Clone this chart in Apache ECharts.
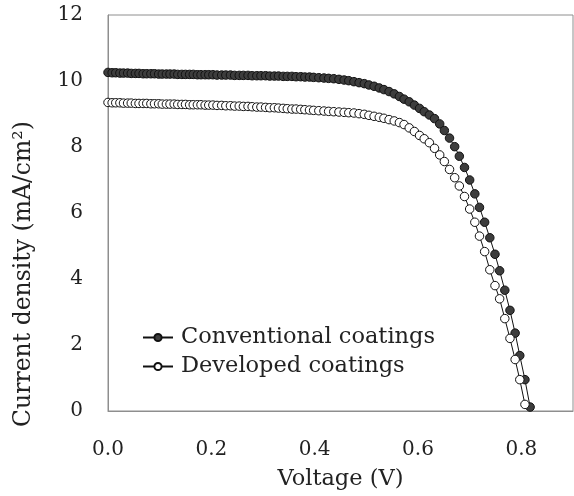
<!DOCTYPE html>
<html>
<head>
<meta charset="utf-8">
<script src="https://cdn.jsdelivr.net/npm/echarts@6/dist/echarts.min.js"></script>
<style>html,body{margin:0;padding:0;background:#fff}#c{width:574px;height:496px}</style>
</head>
<body>
<div id="c"></div>
<script>
var voltage = [
  0.000,0.008,0.015,0.023,0.030,0.038,0.045,0.053,0.060,0.068,0.075,0.083,0.090,0.098,0.105,0.113,0.120,0.128,0.135,0.143,0.150,0.158,0.165,0.173,0.180,0.188,0.195,0.203,
  0.211,0.220,0.228,0.237,0.245,0.254,0.262,0.271,0.279,0.288,0.296,0.305,0.313,0.322,0.330,0.339,0.347,0.356,0.364,0.373,0.381,0.390,0.398,
  0.408,0.418,0.427,0.437,0.447,0.457,0.466,0.476,0.486,0.496,0.505,0.515,0.525,0.534,0.544,0.554,0.564,0.573,0.583,0.593,0.603,0.612,0.622,0.632,0.642,0.651,0.661,0.671,0.680,0.690,0.700,0.710,0.719,0.729,0.739,0.749,0.758,0.768,0.778,0.788,0.797,0.807,0.817
];
var conventional = [
  10.26,10.25,10.25,10.24,10.24,10.24,10.23,10.23,10.23,10.22,10.22,10.22,10.22,10.21,10.21,10.21,10.21,10.21,10.20,10.20,10.20,10.20,10.20,10.19,10.19,10.19,10.19,10.19,
  10.18,10.18,10.18,10.18,10.17,10.17,10.17,10.17,10.16,10.16,10.16,10.16,10.15,10.15,10.15,10.14,10.14,10.14,10.13,10.13,10.12,10.12,10.11,
  10.10,10.09,10.08,10.07,10.05,10.03,10.01,9.98,9.95,9.92,9.88,9.84,9.79,9.74,9.68,9.61,9.53,9.45,9.37,9.27,9.17,9.07,8.97,8.86,8.70,8.50,8.27,8.01,7.72,7.38,7.00,6.58,6.17,5.72,5.25,4.75,4.25,3.66,3.05,2.36,1.68,0.95,0.12
];
var developed = [
  9.35,9.34,9.34,9.34,9.33,9.33,9.33,9.32,9.32,9.32,9.32,9.31,9.31,9.31,9.30,9.30,9.30,9.30,9.29,9.29,9.29,9.28,9.28,9.28,9.28,9.27,9.27,9.27,
  9.26,9.26,9.25,9.25,9.24,9.24,9.23,9.23,9.22,9.21,9.21,9.20,9.19,9.19,9.18,9.17,9.16,9.15,9.15,9.14,9.13,9.12,9.11,
  9.10,9.09,9.08,9.07,9.06,9.05,9.04,9.03,9.01,8.99,8.96,8.93,8.90,8.87,8.83,8.79,8.74,8.68,8.58,8.47,8.35,8.25,8.13,7.96,7.76,7.56,7.32,7.07,6.82,6.50,6.12,5.72,5.30,4.83,4.28,3.80,3.40,2.80,2.20,1.56,0.95,0.20
];
var seriesNames = ['Conventional coatings', 'Developed coatings'];
var xTicks = [0, 0.2, 0.4, 0.6, 0.8];
var yTicks = [0, 2, 4, 6, 8, 10, 12];

function pairs(ys) {
  var out = [];
  for (var i = 0; i < ys.length; i++) out.push([voltage[i], ys[i]]);
  return out;
}

var font = 'DejaVu Serif';
var chart = echarts.init(document.getElementById('c'), null, {renderer: 'canvas'});
chart.setOption({
  animation: false,
  backgroundColor: '#ffffff',
  textStyle: {fontFamily: font, color: '#222'},
  grid: {left: 108, right: 1, top: 15, bottom: 85, show: true, borderColor: '#8e8e8e', borderWidth: 1, containLabel: false, outerBoundsMode: 'none'},
  xAxis: {
    type: 'value', min: xTicks[0], max: 0.9, interval: 0.2,
    name: 'Voltage (V)', nameLocation: 'middle', nameGap: 57,
    nameTextStyle: {fontFamily: font, fontSize: 22.5, color: '#222'},
    axisLine: {show: true, lineStyle: {color: '#8e8e8e', width: 1}},
    axisTick: {show: false},
    splitLine: {show: false},
    axisLabel: {fontFamily: font, fontSize: 20, color: '#222', margin: 29, showMaxLabel: false,
      formatter: function (v) { return xTicks.indexOf(Math.round(v * 10) / 10) >= 0 ? v.toFixed(1) : ''; }}
  },
  yAxis: {
    type: 'value', min: yTicks[0], max: yTicks[yTicks.length - 1], interval: 2,
    axisLine: {show: true, lineStyle: {color: '#8e8e8e', width: 1}},
    axisTick: {show: false},
    splitLine: {show: false},
    axisLabel: {fontFamily: font, fontSize: 20, color: '#222', margin: 25}
  },
  legend: {
    orient: 'vertical', left: 142, top: 326, padding: 0, itemGap: 6,
    itemWidth: 30, itemHeight: 9,
    textStyle: {fontFamily: font, fontSize: 22.5, color: '#222', padding: [0, 0, 0, 3]},
    data: seriesNames
  },
  graphic: [{
    type: 'text', x: 24, y: 274, rotation: Math.PI / 2,
    style: {text: 'Current density (mA/cm²)', font: '23.5px "DejaVu Serif"', fill: '#222', textAlign: 'center', textVerticalAlign: 'middle'}
  }],
  series: [
    {
      name: seriesNames[0], type: 'line', data: pairs(conventional),
      symbol: 'circle', symbolSize: 8.5, showAllSymbol: true,
      lineStyle: {color: '#111', width: 1},
      itemStyle: {color: '#3d3d3d', borderColor: '#111', borderWidth: 1},
      emphasis: {disabled: true}, z: 2
    },
    {
      name: seriesNames[1], type: 'line', data: pairs(developed),
      symbol: 'circle', symbolSize: 8.5, showAllSymbol: true,
      lineStyle: {color: '#111', width: 1},
      itemStyle: {color: '#ffffff', borderColor: '#111', borderWidth: 1},
      emphasis: {disabled: true}, z: 3
    }
  ]
});
</script>
</body>
</html>
